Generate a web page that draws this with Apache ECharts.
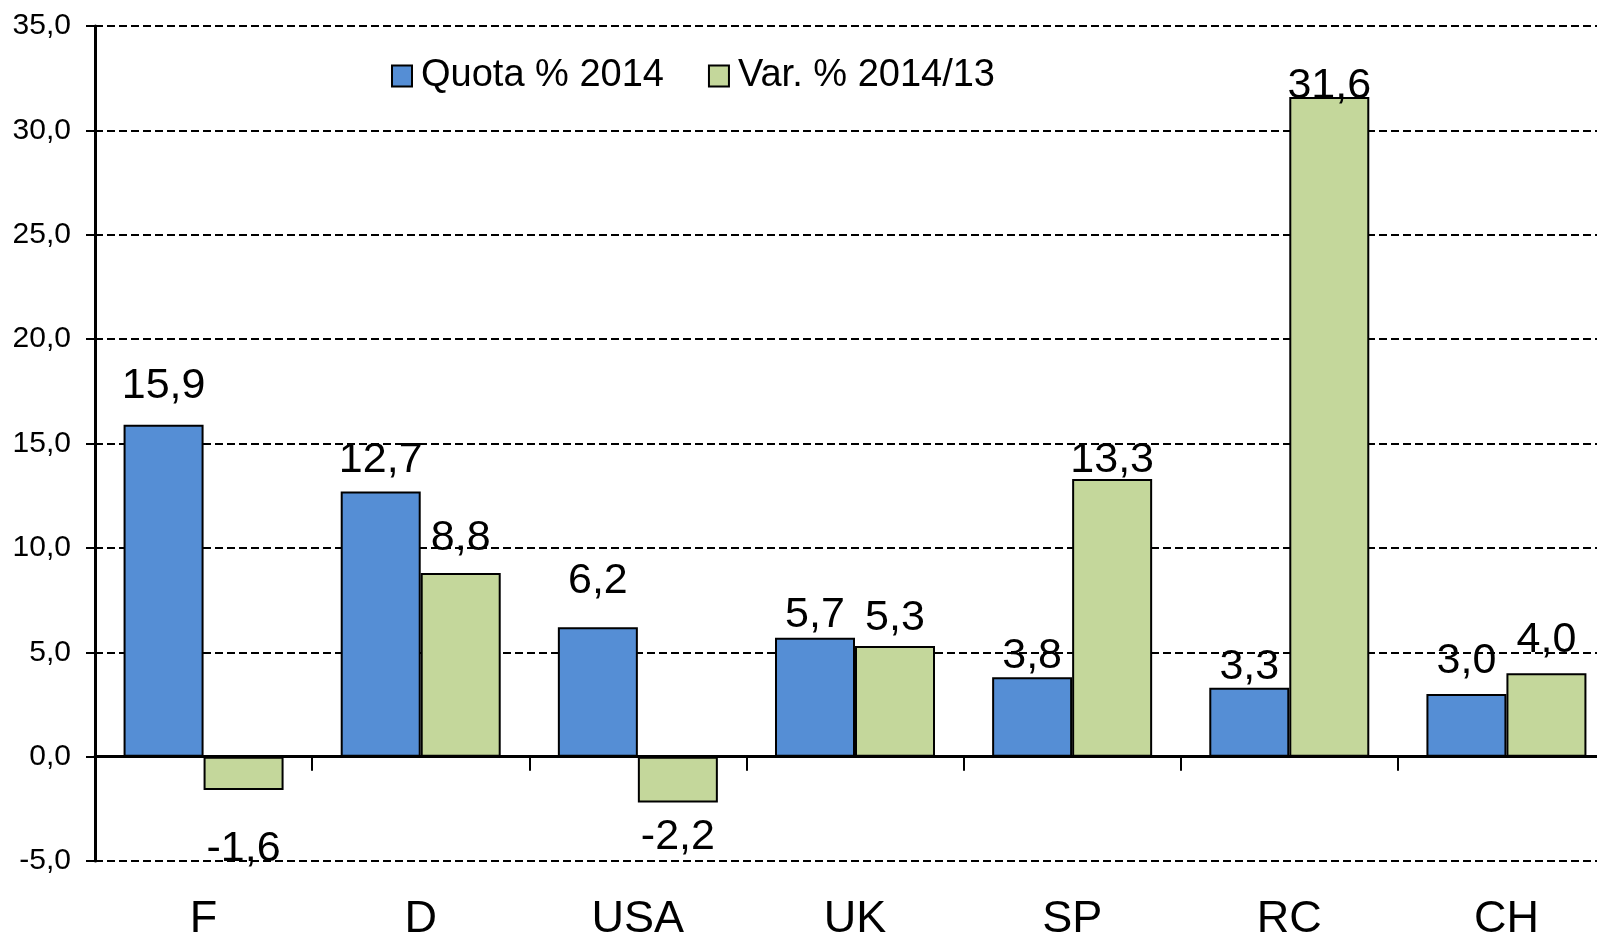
<!DOCTYPE html>
<html>
<head>
<meta charset="utf-8">
<title>Quota % 2014 e Var. % 2014/13</title>
<script src="https://cdn.jsdelivr.net/npm/echarts@6/dist/echarts.min.js"></script>
<style>
  html, body { margin: 0; padding: 0; background: #fff; overflow: hidden; }
  #chart { width: 1597px; height: 936px; }
</style>
</head>
<body>
<div id="chart"></div>
<script>
// Countries on the category axis
const countries = ['F', 'D', 'USA', 'UK', 'SP', 'RC', 'CH'];

// Series values
const quota2014 = [15.9, 12.7, 6.2, 5.7, 3.8, 3.3, 3.0];
const var201413 = [-1.6, 8.8, -2.2, 5.3, 13.3, 31.6, 4.0];

// Value axis range
const yMin = -5;
const yMax = 35;
const yStep = 5;

// Series names shown in the legend
const seriesNames = ['Quota % 2014', 'Var. % 2014/13'];

// ---- styling ----
const FONT = "'Liberation Sans', Arial, sans-serif";
const BLUE = '#558ED5';
const GREEN = '#C4D79B';

// Per-bar spacing between a bar end and its value label
const quotaLabelDist = [17, 10, 25, 1, 0, -1, 11];
const varLabelDist = [38, 13, 13, 6, -3, -11, 11];

const comma = v => Number(v).toFixed(1).replace('.', ',');

function barData(values, dists) {
  return values.map((v, i) => ({
    value: v,
    label: { position: v < 0 ? 'bottom' : 'top', distance: dists[i] }
  }));
}

const labelStyle = {
  show: true,
  color: '#000',
  fontFamily: FONT,
  fontSize: 43,
  formatter: p => comma(p.value)
};

const chart = echarts.init(document.getElementById('chart'), null, { renderer: 'canvas' });

chart.setOption({
  backgroundColor: '#fff',
  animation: false,
  textStyle: { fontFamily: FONT },
  legend: {
    data: seriesNames,
    left: 386,
    top: 52,
    icon: 'rect',
    itemWidth: 20,
    itemHeight: 21,
    itemGap: 44,
    itemStyle: { borderColor: '#000', borderWidth: 2 },
    textStyle: { fontFamily: FONT, fontSize: 38, color: '#000', padding: [0, 0, 0, 4] }
  },
  grid: {
    left: 95,
    top: 26,
    width: 1520,   // the last category runs past the right edge of the page
    height: 835,
    containLabel: false,
    outerBoundsMode: 'none'
  },
  xAxis: [
    {
      // Zero line with separator ticks between countries
      type: 'category',
      data: countries,
      position: 'bottom',
      axisLine: { show: true, onZero: true, lineStyle: { color: '#000', width: 3 } },
      axisTick: { show: true, length: 14, lineStyle: { color: '#000', width: 2 } },
      axisLabel: { show: false },
      splitLine: { show: false }
    },
    {
      // Country names along the bottom edge
      type: 'category',
      data: countries,
      position: 'bottom',
      axisLine: { show: false, onZero: false },
      axisTick: { show: false },
      axisLabel: { show: true, color: '#000', fontFamily: FONT, fontSize: 45, margin: 36 },
      splitLine: { show: false }
    }
  ],
  yAxis: {
    type: 'value',
    min: yMin,
    max: yMax,
    interval: yStep,
    axisLine: { show: true, lineStyle: { color: '#000', width: 3 } },
    axisTick: { show: true, length: 9, lineStyle: { color: '#000', width: 2 } },
    axisLabel: {
      color: '#000',
      fontFamily: FONT,
      fontSize: 30,
      margin: 24,
      formatter: v => comma(v)
    },
    splitLine: { show: true, lineStyle: { color: '#000', width: 2, type: [8, 4] } }
  },
  series: [
    {
      name: seriesNames[0],
      type: 'bar',
      xAxisIndex: 0,
      barWidth: 80,
      barGap: '0%',
      itemStyle: { color: BLUE, borderColor: '#000', borderWidth: 2 },
      label: labelStyle,
      data: barData(quota2014, quotaLabelDist),
      z: 1
    },
    {
      name: seriesNames[1],
      type: 'bar',
      xAxisIndex: 0,
      barWidth: 80,
      barGap: '0%',
      itemStyle: { color: GREEN, borderColor: '#000', borderWidth: 2 },
      label: labelStyle,
      data: barData(var201413, varLabelDist),
      z: 1
    }
  ]
});
</script>
</body>
</html>
